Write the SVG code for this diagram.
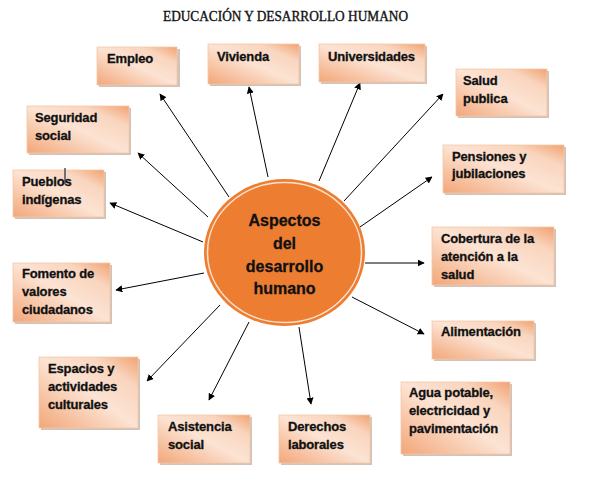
<svg xmlns="http://www.w3.org/2000/svg" width="595" height="480" viewBox="0 0 595 480">
<defs>
<linearGradient id="boxg" x1="0" y1="1" x2="1" y2="0">
<stop offset="0" stop-color="#f2a678"/>
<stop offset="0.5" stop-color="#fce3d3"/>
<stop offset="0.78" stop-color="#f9d5be"/>
<stop offset="1" stop-color="#f1a271"/>
</linearGradient>
<marker id="ah" viewBox="0 0 10 10" refX="9" refY="5" markerWidth="7" markerHeight="7" markerUnits="userSpaceOnUse" orient="auto">
<path d="M0,0 L10,5 L0,10 z" fill="#000"/>
</marker>
</defs>
<style>
.box{fill:url(#boxg);stroke:#f6c8a8;stroke-width:0.8}
.sh{fill:#bfa89a;opacity:0.7}
.t{font-family:"Liberation Sans",Arial,sans-serif;font-weight:bold;font-size:13px;fill:#111;stroke:#111;stroke-width:0.3;letter-spacing:-0.15px}
.c{font-family:"Liberation Sans",Arial,sans-serif;font-weight:bold;font-size:16px;fill:#111;stroke:#111;stroke-width:0.3;text-anchor:middle}
.ln{stroke:#000;stroke-width:1;fill:none;marker-end:url(#ah)}
</style>
<rect width="595" height="480" fill="#fff"/>
<text x="285.5" y="21" text-anchor="middle" font-family="Liberation Serif,serif" font-size="14" fill="#111" stroke="#111" stroke-width="0.35" textLength="245" lengthAdjust="spacingAndGlyphs">EDUCACIÓN  Y  DESARROLLO HUMANO</text>

<g id="connectors">
<line class="ln" x1="229" y1="197" x2="160" y2="94"/>
<line class="ln" x1="268" y1="177" x2="249" y2="87"/>
<line class="ln" x1="319" y1="181" x2="360" y2="83"/>
<line class="ln" x1="344" y1="201" x2="443" y2="94"/>
<line class="ln" x1="208" y1="217" x2="138" y2="153"/>
<line class="ln" x1="203" y1="242" x2="110" y2="203"/>
<line class="ln" x1="360" y1="227" x2="432" y2="177"/>
<line class="ln" x1="204" y1="273" x2="116" y2="290"/>
<line class="ln" x1="365" y1="263" x2="424" y2="263"/>
<line class="ln" x1="352" y1="297" x2="424" y2="334"/>
<line class="ln" x1="220" y1="305" x2="147" y2="381"/>
<line class="ln" x1="249" y1="322" x2="209" y2="400"/>
<line class="ln" x1="299" y1="327" x2="311" y2="404"/>
</g>

<g id="center">
<ellipse cx="284.5" cy="252.5" rx="80.5" ry="73.5" fill="#ed7d31"/>
<ellipse cx="284.5" cy="252.5" rx="77" ry="70" fill="none" stroke="#fbe0cc" stroke-width="1.6"/>
<text class="c" x="284.5" y="226">Aspectos</text>
<text class="c" x="284.5" y="249">del</text>
<text class="c" x="284.5" y="272">desarrollo</text>
<text class="c" x="284.5" y="294">humano</text>
</g>

<g id="empleo">
<rect class="sh" x="99" y="49" width="81" height="38"/>
<rect class="box" x="97" y="47" width="80" height="38"/>
<text class="t" x="107" y="63">Empleo</text>
</g>
<g id="vivienda">
<rect class="sh" x="210" y="46" width="91" height="40"/>
<rect class="box" x="208" y="44" width="91" height="40"/>
<text class="t" x="217" y="61">Vivienda</text>
</g>
<g id="universidades">
<rect class="sh" x="321" y="46" width="106" height="38"/>
<rect class="box" x="319" y="44" width="106" height="38"/>
<text class="t" x="328" y="61">Universidades</text>
</g>
<g id="salud-publica">
<rect class="sh" x="458" y="71" width="91" height="47"/>
<rect class="box" x="456" y="69" width="91" height="47"/>
<text class="t" x="463" y="85">Salud</text>
<text class="t" x="463" y="103">publica</text>
</g>
<g id="seguridad-social">
<rect class="sh" x="29" y="108" width="102" height="47"/>
<rect class="box" x="27" y="106" width="102" height="47"/>
<text class="t" x="35" y="122">Seguridad</text>
<text class="t" x="35" y="140">social</text>
</g>
<g id="pueblos-indigenas">
<rect class="sh" x="15" y="172" width="91" height="47"/>
<rect class="box" x="13" y="170" width="91" height="47"/>
<text class="t" x="22" y="186">Pueblos</text>
<text class="t" x="22" y="204">indígenas</text>
<line x1="65" y1="168" x2="65" y2="184" stroke="#1a2a40" stroke-width="1.2"/>
</g>
<g id="pensiones">
<rect class="sh" x="445" y="147" width="121" height="48"/>
<rect class="box" x="443" y="145" width="121" height="48"/>
<text class="t" x="452" y="161">Pensiones y</text>
<text class="t" x="452" y="178">jubilaciones</text>
</g>
<g id="cobertura">
<rect class="sh" x="434" y="229" width="122" height="58"/>
<rect class="box" x="432" y="227" width="122" height="58"/>
<text class="t" x="441" y="243">Cobertura de la</text>
<text class="t" x="441" y="261">atención a la</text>
<text class="t" x="441" y="279">salud</text>
</g>
<g id="fomento">
<rect class="sh" x="15" y="265" width="97" height="59"/>
<rect class="box" x="13" y="263" width="97" height="59"/>
<text class="t" x="22" y="278">Fomento de</text>
<text class="t" x="22" y="296">valores</text>
<text class="t" x="22" y="314">ciudadanos</text>
</g>
<g id="alimentacion">
<rect class="sh" x="434" y="323" width="102" height="38"/>
<rect class="box" x="432" y="321" width="102" height="38"/>
<text class="t" x="441" y="336">Alimentación</text>
</g>
<g id="agua">
<rect class="sh" x="403" y="384" width="109" height="72"/>
<rect class="box" x="401" y="382" width="109" height="72"/>
<text class="t" x="409" y="397">Agua potable,</text>
<text class="t" x="409" y="415">electricidad y</text>
<text class="t" x="409" y="433">pavimentación</text>
</g>
<g id="espacios">
<rect class="sh" x="41" y="359" width="99" height="71"/>
<rect class="box" x="39" y="357" width="99" height="71"/>
<text class="t" x="48" y="373">Espacios y</text>
<text class="t" x="48" y="391">actividades</text>
<text class="t" x="48" y="409">culturales</text>
</g>
<g id="asistencia">
<rect class="sh" x="160" y="417" width="92" height="48"/>
<rect class="box" x="158" y="415" width="92" height="48"/>
<text class="t" x="168" y="431">Asistencia</text>
<text class="t" x="168" y="449">social</text>
</g>
<g id="derechos">
<rect class="sh" x="281" y="417" width="91" height="48"/>
<rect class="box" x="279" y="415" width="91" height="48"/>
<text class="t" x="288" y="431">Derechos</text>
<text class="t" x="288" y="449">laborales</text>
</g>
</svg>
